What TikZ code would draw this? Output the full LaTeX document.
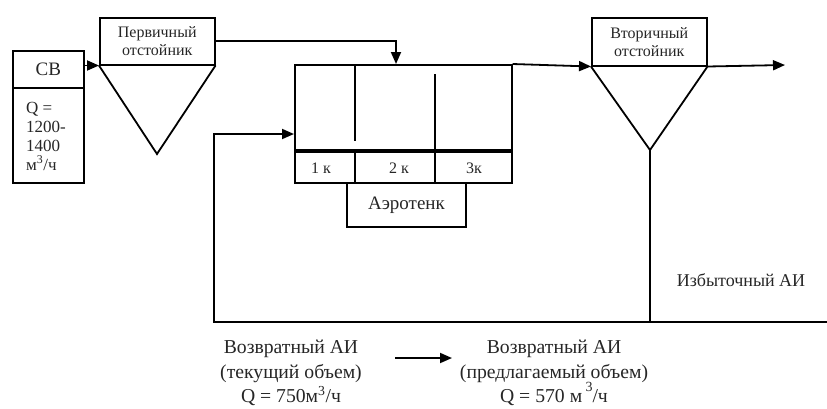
\documentclass[tikz,border=0pt]{standalone}
\usepackage{fontspec}
\setmainfont{Liberation Serif}
\usetikzlibrary{arrows.meta}
\begin{document}
\begin{tikzpicture}[x=1pt,y=-1pt,
  every node/.style={text=black!85},
  line/.style={line width=1.8pt},
  flow/.style={line width=1.8pt,-{Triangle[length=12pt,width=10pt]}},
  box/.style={draw,line width=1.5pt,inner sep=0pt,anchor=north west},
  fsmall/.style={font=\fontsize{16}{18}\selectfont},
  fmid/.style={font=\fontsize{17}{19}\selectfont},
  fbig/.style={font=\fontsize{19.7}{24.5}\selectfont},
  fexcess/.style={font=\fontsize{18}{22}\selectfont}]
\useasboundingbox (0,0) rectangle (827,408);

% influent block
\node[box,font=\fontsize{19}{23}\selectfont,minimum width=71,minimum height=37] (cbtop) at (12,50) {СВ};
\node[box,minimum width=71,minimum height=95] (cbbot) at (12,87) {};
\node[fmid,anchor=west,align=left,inner sep=0pt] (cbq) at (26,136)
  {Q =\\1200-\\1400\\м\textsuperscript{3}/ч};

% primary settler
\node[box,fsmall,align=center,minimum width=115,minimum height=47] (ps) at (99,17)
  {Первичный\\отстойник};
\coordinate (psapex) at (157,154);
\draw[line] (ps.south west) -- (psapex) -- (ps.south east);

% aeration tank
\node[box,minimum width=217,minimum height=118] (at) at (294,64) {};
\draw[line width=3.5pt] (at.west |- 0,151) -- (at.east |- 0,151);
\draw[line] (355,64) -- (355,141);
\draw[line] (355,151) -- (355,182);
\draw[line] (435,74) -- (435,182);
\node[fsmall] (k1) at (321,168) {1 к};
\node[fsmall] (k2) at (399,168) {2 к};
\node[fsmall] (k3) at (474,168) {3к};
\node[box,font=\fontsize{19}{23}\selectfont,anchor=north,minimum width=119,minimum height=44] (atlabel) at (406.5,182) {Аэротенк};

% secondary settler
\node[box,fsmall,align=center,minimum width=115,minimum height=48] (ss) at (591,17)
  {Вторичный\\отстойник};
\coordinate (ssapex) at (650,150);
\draw[line] (ss.south west) -- (ssapex) -- (ss.south east);

% flows
\coordinate (atin) at (396,64);
\coordinate (effluent) at (785,65);
\coordinate (excess) at (827,322);
\coordinate (ssfoot) at (ssapex |- excess);
\coordinate (retcorner) at (214,322);
\coordinate (retin) at (294,134);
\draw[flow] (ps.south west -| cbtop.east) -- (ps.south west);
\draw[flow] (ps.east) -| (atin);
\draw[flow] (at.north east) -- (ss.south west);
\draw[flow] (ss.south east) -- (effluent);
\draw[line] (ssapex) -- (ssfoot);
\draw[line width=1.1pt] (excess) -- (ssfoot);
\draw[flow] (ssfoot) -- (retcorner) |- (retin);

\node[fexcess] (excesslabel) at (741,280) {Избыточный АИ};

% return sludge, current and proposed
\node[fbig,align=center] (retnow) at (291,373)
  {Возвратный АИ\\(текущий объем)\\Q = 750м\textsuperscript{3}/ч};
\node[fbig,align=center] (retnew) at (554,373)
  {Возвратный АИ\\(предлагаемый объем)\\Q = 570 м\,\raisebox{1.2ex}{\fontsize{14}{14}\selectfont 3}/ч};
\coordinate (cmpA) at (395,358);
\coordinate (cmpB) at (452,358);
\draw[flow] (cmpA) -- (cmpB);
\end{tikzpicture}
\end{document}
